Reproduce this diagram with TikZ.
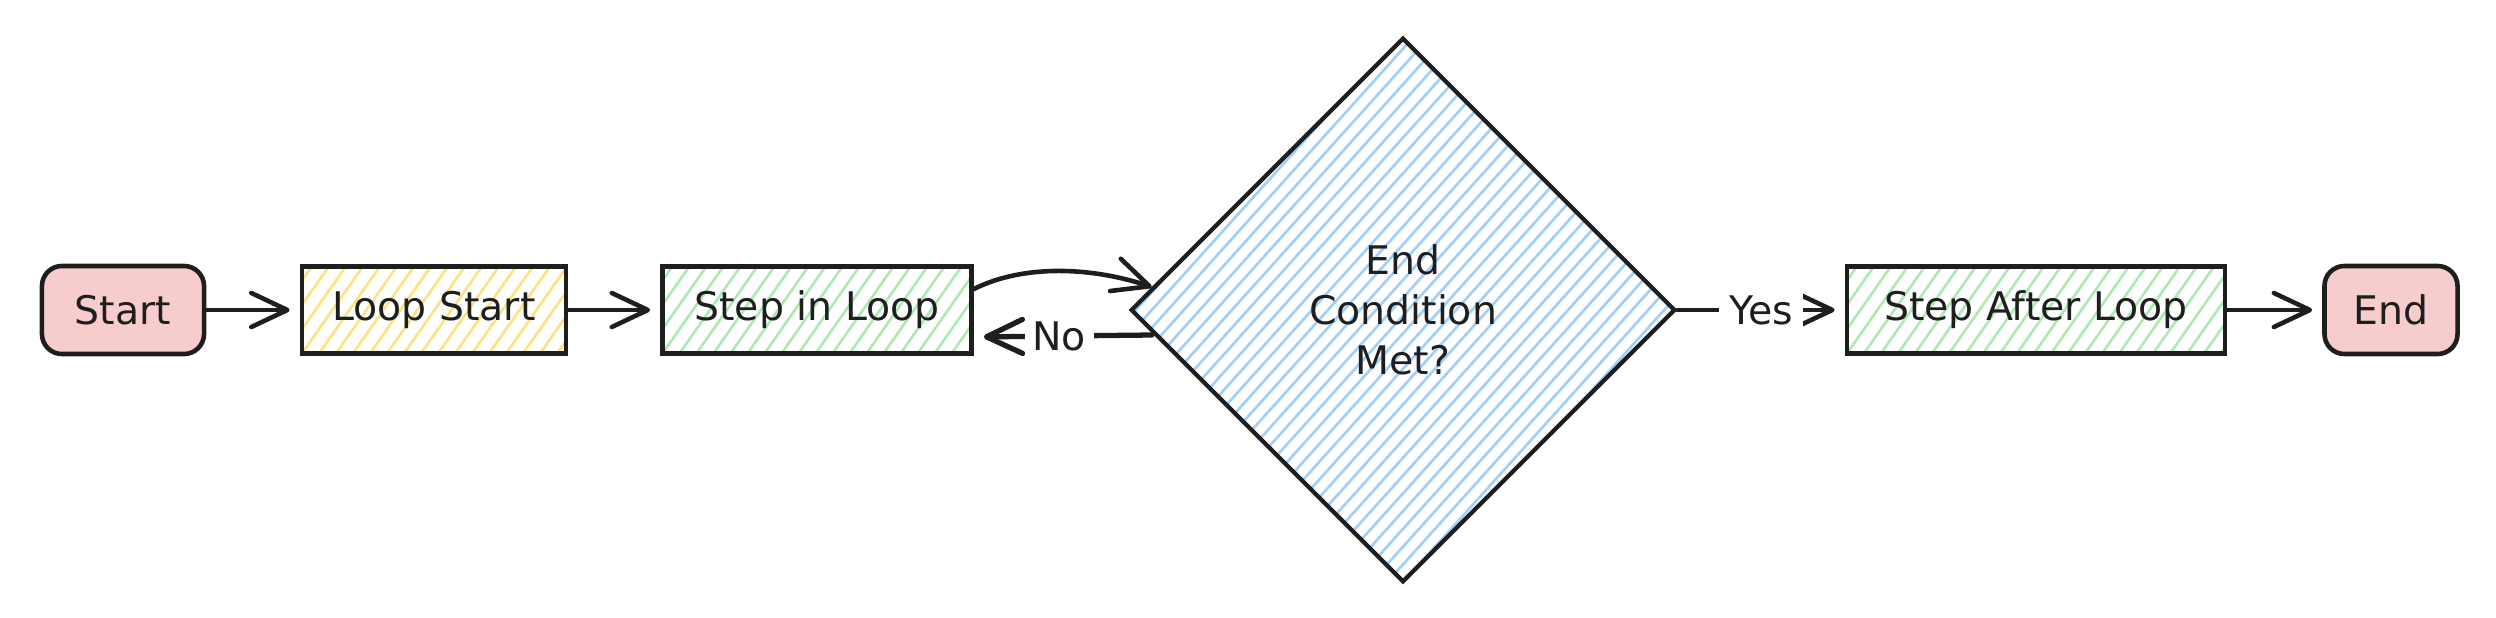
\documentclass[tikz,border=0pt]{standalone}
\usepackage{fontspec}
\setmainfont{DejaVu Sans}
\usepackage{tikz}
\usetikzlibrary{arrows.meta,positioning,calc,shapes.geometric}
\definecolor{ink}{RGB}{30,30,30}
\definecolor{rose}{RGB}{247,204,204}
\definecolor{butter}{RGB}{252,226,130}
\definecolor{mint}{RGB}{172,234,180}
\definecolor{sky}{RGB}{160,208,250}

\begin{document}
\begin{tikzpicture}[x=0.01cm, y=-0.01cm, every node/.style={align=center,font=\fontsize{11.2pt}{14.2pt}\selectfont,text=ink}, hatch/.style n args={3}{path picture={\foreach \k in {-60,...,60} \draw[#1,line width=0.75pt] ($(path picture bounding box.south west)+(\k*#3,0)$) -- ++(#2:8cm);}}, term/.style={rectangle,rounded corners=0.2cm,draw=ink,line width=1.3pt,fill=rose,minimum height=0.88cm,inner sep=0pt}, stepbox/.style={rectangle,draw=ink,line width=1.3pt,minimum height=0.87cm,inner sep=0pt}, decide/.style={diamond,aspect=1,draw=ink,line width=1.2pt,minimum width=5.44cm,minimum height=5.44cm,inner sep=0pt,hatch={sky}{48}{0.16cm}}, link/.style={-{Straight Barb[length=3.6mm,width=3.4mm,round]},line width=1.3pt,ink,line cap=round,shorten >=0.1cm}, lbl/.style={fill=white,inner sep=2.2pt}]
  \useasboundingbox (0,0) rectangle (2496,618);
  \node[term,minimum width=1.62cm] (start) at (123,310) {Start};
  \node[stepbox,minimum width=2.64cm,hatch={butter}{55}{0.17cm}] (loopstart) at (434,310) {Loop Start};
  \node[stepbox,minimum width=3.09cm,hatch={mint}{55}{0.17cm}] (stepin) at (817,310) {Step in Loop};
  \node[decide] (cond) at (1403,310) {End\\Condition\\Met?};
  \node[stepbox,minimum width=3.78cm,hatch={mint}{55}{0.17cm}] (stepafter) at (2036,310) {Step After Loop};
  \node[term,minimum width=1.33cm] (finish) at (2391,310) {End};
  \draw[link] (start) -- (loopstart); \draw[link] (loopstart) -- (stepin);
  \draw[link,shorten >=0pt] ($(stepin.east)+(0,-21)$) .. controls +(50,-25) and +(-60,-20) .. ($(cond.west)+(23,-23)$);
  \draw[link,line width=1.5pt] ($(cond.west)+(23,25)$) -- node[lbl,pos=0.52] {No} ($(stepin.east)+(0,27)$);
  \draw[link] (cond) -- node[lbl,inner sep=3pt] {Yes} (stepafter);
  \draw[link] (stepafter) -- (finish);
\end{tikzpicture}
\end{document}
